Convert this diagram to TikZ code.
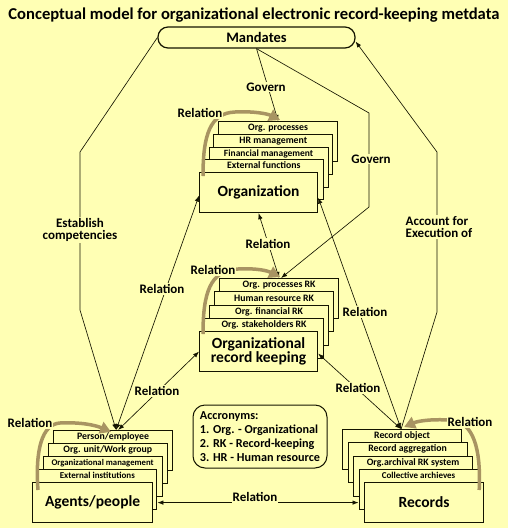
\documentclass[tikz,border=0pt]{standalone}
\usepackage{fontspec}
\setmainfont{Carlito}
\usetikzlibrary{arrows.meta,calc}
\definecolor{bg}{RGB}{255,255,180}
\definecolor{loopc}{RGB}{168,148,98}
\definecolor{ink}{RGB}{20,20,0}
\begin{document}
\begin{tikzpicture}[x=1pt,y=-1pt,
  mainbox/.style={draw=ink, line width=1.2pt, fill=bg, anchor=north west, inner sep=0pt,
    minimum width=119pt, minimum height=40pt, font=\bfseries\fontsize{15.5}{14}\selectfont, align=center},
  card/.style={draw=ink, line width=1.2pt, fill=bg, anchor=north west, inner sep=0pt,
    minimum width=119pt, minimum height=40pt},
  ctxt/.style={anchor=base, inner sep=0pt, font=\bfseries\fontsize{9.8}{10}\selectfont},
  conn/.style={line width=0.65pt, draw=ink},
  onetip/.style={conn, -{Latex[length=6pt,width=4.5pt]}},
  twotip/.style={conn, {Latex[length=6pt,width=4.5pt]}-{Latex[length=6pt,width=4.5pt]}},
  lbl/.style={fill=bg, inner sep=1pt, font=\bfseries\fontsize{13}{12}\selectfont, align=center},
  relloop/.style={draw=loopc, line width=3.5pt, -{Triangle[length=11pt,width=12pt]}},
]
\fill[bg] (0,0) rectangle (508,528);
\useasboundingbox (0,0) rectangle (508,528);

% title
\node[font=\bfseries\fontsize{16.6}{17}\selectfont, inner sep=0pt] (title) at (254,15)
  {Conceptual model for organizational electronic record-keeping metdata};

% mandates
\node[draw=ink, line width=1.2pt, fill=bg, rounded corners=10pt, minimum width=197pt,
  minimum height=21pt, inner sep=0pt, font=\bfseries\fontsize{14.5}{14}\selectfont] (mand) at (256.5,37.5) {Mandates};

% organization stack
\node[card] (o4) at (218,121) {};
\node[ctxt] (o4t) at ($(o4.north)+(0,9.7)$) {Org. processes};
\node[card] (o3) at (213.25,133.75) {};
\node[ctxt] (o3t) at ($(o3.north)+(0,9.7)$) {HR management};
\node[card] (o2) at (208.5,146.5) {};
\node[ctxt, font=\bfseries\fontsize{9.5}{10}\selectfont] (o2t) at ($(o2.north)+(0,9.7)$) {Financial management};
\node[card] (o1) at (203.75,159.25) {};
\node[ctxt] (o1t) at ($(o1.north)+(0,9.7)$) {External functions};
\node[mainbox, minimum width=118pt] (org) at (199,172) {Organization};

% organizational record keeping stack
\node[card] (k4) at (219,278) {};
\node[ctxt] (k4t) at ($(k4.north)+(0,9.9)$) {Org. processes RK};
\node[card] (k3) at (214,291.25) {};
\node[ctxt] (k3t) at ($(k3.north)+(0,9.9)$) {Human resource RK};
\node[card] (k2) at (209,304.5) {};
\node[ctxt] (k2t) at ($(k2.north)+(0,9.9)$) {Org. financial RK};
\node[card] (k1) at (204,317.75) {};
\node[ctxt] (k1t) at ($(k1.north)+(0,9.9)$) {Org. stakeholders RK};
\node[mainbox, minimum width=118pt] (ork) at (199,331) {Organizational\\record keeping};

% agents stack
\node[card] (a4) at (53,430) {};
\node[ctxt] (a4t) at ($(a4.north)+(0,9.7)$) {Person/employee};
\node[card] (a3) at (47.75,443) {};
\node[ctxt] (a3t) at ($(a3.north)+(0,9.7)$) {Org. unit/Work group};
\node[card] (a2) at (42.5,456) {};
\node[ctxt, font=\bfseries\fontsize{8.7}{10}\selectfont] (a2t) at ($(a2.north)+(0,9.7)$) {Organizational management};
\node[card] (a1) at (37.25,469) {};
\node[ctxt, font=\bfseries\fontsize{9}{10}\selectfont] (a1t) at ($(a1.north)+(0,9.7)$) {External institutions};
\node[mainbox, minimum width=120pt] (agt) at (32,482) {Agents/people};

% records stack
\node[card] (d4) at (342,429) {};
\node[ctxt] (d4t) at ($(d4.north)+(0,9.7)$) {Record object};
\node[card] (d3) at (347.5,442.25) {};
\node[ctxt] (d3t) at ($(d3.north)+(0,9.7)$) {Record aggregation};
\node[card] (d2) at (353,455.5) {};
\node[ctxt] (d2t) at ($(d2.north)+(0,9.7)$) {Org.archival RK system};
\node[card] (d1) at (358.5,468.75) {};
\node[ctxt, font=\bfseries\fontsize{9}{10}\selectfont] (d1t) at ($(d1.north)+(0,9.7)$) {Collective archieves};
\node[mainbox] (rec) at (364,482) {Records};

% acronyms
\node[draw=ink, line width=1pt, fill=bg, rounded corners=12pt, minimum width=134pt, minimum height=63pt,
  inner sep=3pt, align=left, font=\bfseries\fontsize{12.2}{14}\selectfont] (acr) at (260,436.5)
  {Accronyms:\\1. Org. - Organizational\\2. RK - Record-keeping\\3. HR - Human resource};

% connectors
\draw[onetip] (mand.south) -- (o4.north);
\draw[onetip] (mand.south) -- (369,113) -- (369,207) -- ($(k4.north)+(2,0)$);
\draw[onetip] (mand.west) -- (80,152) -- (80,310) -- ($(a4.north)+(3,0)$);
\draw[onetip] ($(d4.north)+(-1,0)$) -- (437,312) -- (437,152) -- ($(mand.east)+(0,4)$);
\draw[twotip] ($(a4.north)+(3,0)$) -- ($(org.west)+(0,3)$);
\draw[twotip] ($(a4.north)+(5,0)$) -- (ork.west);
\draw[twotip] (org.south) -- (k4.north);
\draw[twotip] ($(org.east)+(0,5)$) -- ($(d4.north)+(-1,0)$);
\draw[twotip] ($(ork.east)+(0,2)$) -- ($(d4.north)+(-1,0)$);
\draw[twotip] (agt.east -| a1.east) -- (agt.east -| d1.west);

% connector labels
\node[lbl] (lg1) at (266,87) {Govern};
\node[lbl] (lg2) at (371,159) {Govern};
\node[lbl] (lest) at (80,230) {Establish\\competencies};
\node[lbl, align=left] (lacc) at (439,227) {Account for\\Execution of};
\node[lbl] (lr1) at (162,289) {Relation};
\node[lbl] (lr2) at (157,391) {Relation};
\node[lbl] (lr3) at (268,244) {Relation};
\node[lbl] (lr4) at (365,312) {Relation};
\node[lbl] (lr5) at (358,388) {Relation};
\node[lbl] (lr6) at (255,497) {Relation};

% self relations
\draw[relloop] ($(org.north west)+(4,4)$) .. controls (203,135) and (210,113) .. (235,112)
  .. controls (255,111) and (268,114) .. ($(o4.north)+(2,-1)$);
\draw[relloop] ($(ork.north west)+(4,3)$) .. controls (203,293) and (210,270) .. (238,269)
  .. controls (258,268) and (268,271) .. ($(k4.north)+(1,-1)$);
\draw[relloop] ($(agt.north west)+(6,8)$) .. controls (35,450) and (42,424) .. (60,423)
  .. controls (80,422) and (95,425) .. ($(a4.north)+(-2,2)$);
\draw[relloop] ($(rec.north east)+(-5,8)$) .. controls (481,450) and (474,421) .. (450,420)
  .. controls (430,419) and (418,421) .. ($(d4.north)+(2,-2)$);
\node[lbl] (lo1) at (200,113) {Relation};
\node[lbl] (lo2) at (213,270) {Relation};
\node[lbl] (lo3) at (30,423) {Relation};
\node[lbl] (lo4) at (470,422) {Relation};
\end{tikzpicture}
\end{document}
